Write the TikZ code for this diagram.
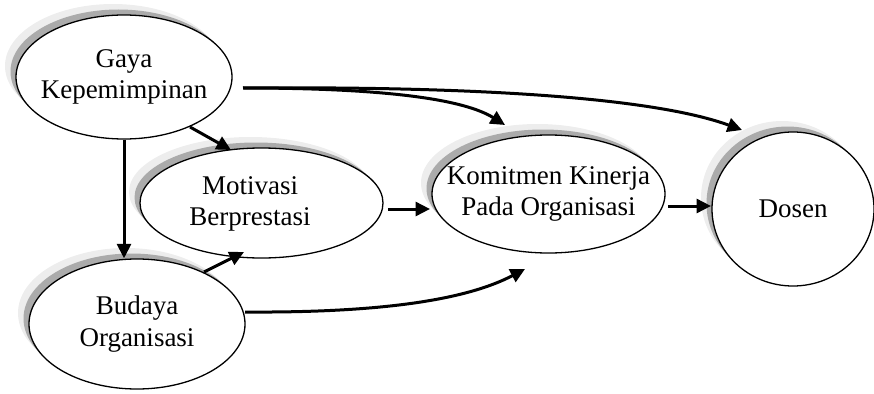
\documentclass[tikz,border=0pt]{standalone}
\usepackage{fontspec}
\setmainfont{Liberation Serif}
\usetikzlibrary{shapes.geometric, shadows, arrows.meta}
\definecolor{shlight}{gray}{0.93}
\definecolor{shdark}{gray}{0.67}
\begin{document}
\begin{tikzpicture}[x=1pt, y=-1pt,
  bubble/.style={ellipse, draw, line width=1.3pt, fill=white, inner sep=0pt,
    general shadow={fill=shlight, shadow xshift=-11pt, shadow yshift=11pt},
    general shadow={fill=shdark, shadow xshift=-5.5pt, shadow yshift=5.5pt}},
  txt/.style={align=center, inner sep=0pt, font=\fontsize{27}{31.5}\selectfont},
  link/.style={line width=3pt, -{Triangle[length=14.5pt,width=14pt]}}]
  \useasboundingbox (0,0) rectangle (874,393);

  % the five constructs
  \node[bubble, minimum width=216pt, minimum height=124pt] (gaya) at (124,77) {};
  \node[bubble, minimum width=243pt, minimum height=110pt] (mot)  at (261.5,203) {};
  \node[bubble, minimum width=216pt, minimum height=130pt] (bud)  at (137,324) {};
  \node[bubble, minimum width=233pt, minimum height=118pt] (kom)  at (548.5,194) {};
  \node[bubble, minimum width=162pt, minimum height=154pt] (dos)  at (793,209) {};

  \node[txt] (gayaT) at (gaya.center) {Gaya\\Kepemimpinan};
  \node[txt] (motT)  at (250,204) {Motivasi\\Berprestasi};
  \node[txt] (budT)  at (bud.center) {Budaya\\Organisasi};
  \node[txt] (komT)  at (kom.center) {Komitmen Kinerja\\Pada Organisasi};
  \node[txt] (dosT)  at (dos.center) {Dosen};

  % attachment points of the connectors
  \coordinate (gayaR)  at (243,88);
  \coordinate (gayaSE) at (190,127);
  \coordinate (motN)   at (231,150);
  \coordinate (budNE)  at (204,272);
  \coordinate (motS)   at (244,252);
  \coordinate (motR)   at (388,209);
  \coordinate (komL)   at (430,209);
  \coordinate (komR)   at (668,206);
  \coordinate (dosL)   at (711,206);
  \coordinate (komN)   at (505,125);
  \coordinate (dosNW)  at (742,130);
  \coordinate (budR)   at (245,312);
  \coordinate (komSW)  at (525,269);

  % relations
  \draw[link] (gaya.south) -- (gaya.south |- bud.north);
  \draw[link] (gayaSE) -- (motN);
  \draw[link] (budNE) -- (motS);
  \draw[link] (motR) -- (komL);
  \draw[link] (komR) -- (dosL);
  \draw[link] (gayaR) .. controls (390,88) and (465,100) .. (komN);
  \draw[link] (gayaR) .. controls (500,86) and (660,100) .. (dosNW);
  \draw[link] (budR) .. controls (390,313) and (470,298) .. (komSW);
\end{tikzpicture}
\end{document}
